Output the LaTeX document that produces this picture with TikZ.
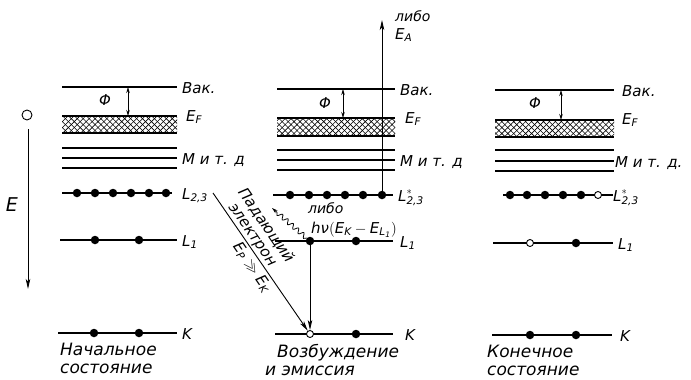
\RequirePackage{fix-cm}
\documentclass[tikz,border=0pt]{standalone}
\usepackage{amsmath,amssymb}
\usepackage{fontspec}
\setmainfont{DejaVu Sans}
\usetikzlibrary{arrows.meta,decorations.pathmorphing,patterns.meta}
\newcommand\tl[1]{\text{#1}}
\tikzset{
  level/.style={black,line width=1.1pt},
  electron/.style={circle,fill=black,inner sep=0pt,minimum size=8.5pt},
  hole/.style={circle,draw=black,fill=white,line width=0.9pt,inner sep=0pt,minimum size=7pt},
  flow/.style={-{Stealth[length=10pt,width=4.5pt,inset=2.5pt]},line width=0.9pt},
  work/.style={{Stealth[length=6pt,width=3.5pt]}-{Stealth[length=6pt,width=3.5pt]},line width=0.8pt},
  photon/.style={-{Stealth[length=6pt,width=3.5pt]},line width=0.8pt,decorate,
                 decoration={snake,amplitude=2.3pt,segment length=7pt,post length=5pt}},
  hatchA/.style={pattern={Lines[angle=45,distance=4.2pt,line width=0.6pt]}},
  hatchB/.style={pattern={Lines[angle=-45,distance=4.2pt,line width=0.6pt]}},
  lab/.style={anchor=base west,inner sep=0pt,font=\fontsize{15}{17}\selectfont\itshape},
  small/.style={anchor=base west,inner sep=0pt,font=\fontsize{14}{16}\selectfont\itshape},
  phi/.style={font=\fontsize{15}{17}\selectfont\itshape},
  caption/.style={anchor=north west,align=left,inner sep=0pt,font=\fontsize{17}{18}\selectfont\itshape},
}

\begin{document}
\begin{tikzpicture}[x=1pt,y=-1pt]
  \path[use as bounding box] (0,0) rectangle (691,380);

  % energy axis
  \node[hole,minimum size=10pt] (free) at (27,115) {};
  \coordinate (etop) at (28,129);
  \coordinate (ebot) at (28,289);
  \draw[flow] (etop) -- (ebot);
  \node[font=\fontsize{19}{21}\selectfont\itshape] (elab) at (12,205) {E};

  % initial state
  \draw[level] (62,87) -- (177,87);
  \fill[hatchA] (62,116) rectangle (177,133);
  \fill[hatchB] (62,116) rectangle (177,133);
  \draw[level] (62,116) -- (177,116) (62,133) -- (177,133);
  \draw[level] (62,148) -- (177,148) (62,158) -- (177,158) (62,168) -- (177,168);
  \draw[level] (62,193) -- (172,193);
  \draw[level] (60,240) -- (177,240);
  \draw[level] (58,333) -- (177,333);
  \coordinate (avac) at (128,87);
  \coordinate (aef) at (128,116);
  \draw[work] (avac) -- (aef);
  \node[phi] (aphi) at (105,100) {Φ};
  \node[electron] (a23a) at (77,193) {};
  \node[electron] (a23b) at (95,193) {};
  \node[electron] (a23c) at (113,193) {};
  \node[electron] (a23d) at (131,193) {};
  \node[electron] (a23e) at (149,193) {};
  \node[electron] (a23f) at (166,193) {};
  \node[electron] (a1a) at (95,240) {};
  \node[electron] (a1b) at (139,240) {};
  \node[electron] (aKa) at (94,333) {};
  \node[electron] (aKb) at (139,333) {};
  \node[lab] (avlab) at (182,93) {Вак.};
  \node[lab] (aflab) at (186,121) {$\tl{E}_{\tl{F}}$};
  \node[lab] (amlab) at (182,164) {М и т. д};
  \node[lab] (a23lab) at (182,199) {$\tl{L}_{\tl{2,3}}$};
  \node[lab] (a1lab) at (182,246) {$\tl{L}_{\tl{1}}$};
  \node[lab] (aKlab) at (182,339) {K};
  \node[caption] (acap) at (60,343) {Начальное\\состояние};

  % excitation and emission
  \draw[level] (277,89) -- (395,89);
  \fill[hatchA] (277,118) rectangle (395,136);
  \fill[hatchB] (277,118) rectangle (395,136);
  \draw[level] (277,118) -- (395,118) (277,136) -- (395,136);
  \draw[level] (277,150) -- (395,150) (277,160) -- (395,160) (277,170) -- (395,170);
  \draw[level] (273,195) -- (393,195);
  \draw[level] (275,241) -- (393,241);
  \draw[level] (275,334) -- (393,334);
  \coordinate (bvac) at (343,89);
  \coordinate (bef) at (343,118);
  \draw[work] (bvac) -- (bef);
  \node[phi] (bphi) at (325,103) {Φ};
  \node[electron] (b23a) at (290,195) {};
  \node[electron] (b23b) at (309,195) {};
  \node[electron] (b23c) at (327,195) {};
  \node[electron] (b23d) at (345,195) {};
  \node[electron] (b23e) at (363,195) {};
  \node[electron] (b23f) at (382,195) {};
  \node[electron] (b1a) at (310,241) {};
  \node[electron] (b1b) at (356,241) {};
  \node[hole] (bKa) at (310,334) {};
  \node[electron] (bKb) at (356,334) {};
  \node[lab] (bvlab) at (400,95) {Вак.};
  \node[lab] (bflab) at (405,123) {$\tl{E}_{\tl{F}}$};
  \node[lab] (bmlab) at (400,166) {М и т. д};
  \node[lab] (b23lab) at (398,201) {$\tl{L}^*_{\tl{2,3}}$};
  \node[lab] (b1lab) at (400,247) {$\tl{L}_{\tl{1}}$};
  \node[lab] (bKlab) at (405,340) {K};
  \coordinate (auger) at (382,20);
  \draw[flow] (b23f.center) -- (auger);
  \node[small] (bor1) at (395,21) {либо};
  \node[lab] (ealab) at (395,39) {$\tl{E}_{\tl{A}}$};
  \coordinate (xray) at (272,208);
  \draw[photon] (b1a) -- (xray);
  \node[small] (bor2) at (308,213) {либо};
  \node[lab] (hvlab) at (311,233) {$\tl{hν}(\tl{E}_{\tl{K}}-\tl{E}_{\tl{L}_{\tl{1}}})$};
  \draw[flow] (b1a) -- (bKa);
  \coordinate (pin) at (213,193);
  \draw[flow] (pin) -- (bKa)
    node[pos=0.34,sloped,above=1pt,align=center,inner sep=0pt,
         font=\fontsize{15}{16}\selectfont\itshape] (plab) {Падающий\\электрон}
    node[pos=0.5,sloped,below=3pt,inner sep=0pt,font=\fontsize{15}{17}\selectfont\itshape] (eplab)
         {$\tl{E}_{\tl{P}}\gg\tl{E}_{\tl{K}}$};
  \node[caption] (bcap) at (265,344) {\hspace*{12pt}Возбуждение\\и эмиссия};

  % final state
  \draw[level] (495,90) -- (614,90);
  \fill[hatchA] (495,120) rectangle (614,137);
  \fill[hatchB] (495,120) rectangle (614,137);
  \draw[level] (495,120) -- (614,120) (495,137) -- (614,137);
  \draw[level] (495,150) -- (614,150) (495,161) -- (614,161) (495,171) -- (614,171);
  \draw[level] (503,195) -- (613,195);
  \draw[level] (493,243) -- (613,243);
  \draw[level] (492,335) -- (612,335);
  \coordinate (cvac) at (561,90);
  \coordinate (cef) at (561,120);
  \draw[work] (cvac) -- (cef);
  \node[phi] (cphi) at (535,103) {Φ};
  \node[electron] (c23a) at (510,195) {};
  \node[electron] (c23b) at (527,195) {};
  \node[electron] (c23c) at (545,195) {};
  \node[electron] (c23d) at (563,195) {};
  \node[electron] (c23e) at (581,195) {};
  \node[hole] (c23f) at (598,195) {};
  \node[hole] (c1a) at (530,243) {};
  \node[electron] (c1b) at (576,243) {};
  \node[electron] (cKa) at (530,335) {};
  \node[electron] (cKb) at (576,335) {};
  \node[lab] (cvlab) at (622,96) {Вак.};
  \node[lab] (cflab) at (622,124) {$\tl{E}_{\tl{F}}$};
  \node[lab] (cmlab) at (615,167) {М и т. д.};
  \node[lab] (c23lab) at (613,201) {$\tl{L}^*_{\tl{2,3}}$};
  \node[lab] (c1lab) at (618,249) {$\tl{L}_{\tl{1}}$};
  \node[lab] (cKlab) at (620,341) {K};
  \node[caption] (ccap) at (487,345) {Конечное\\состояние};
\end{tikzpicture}
\end{document}
